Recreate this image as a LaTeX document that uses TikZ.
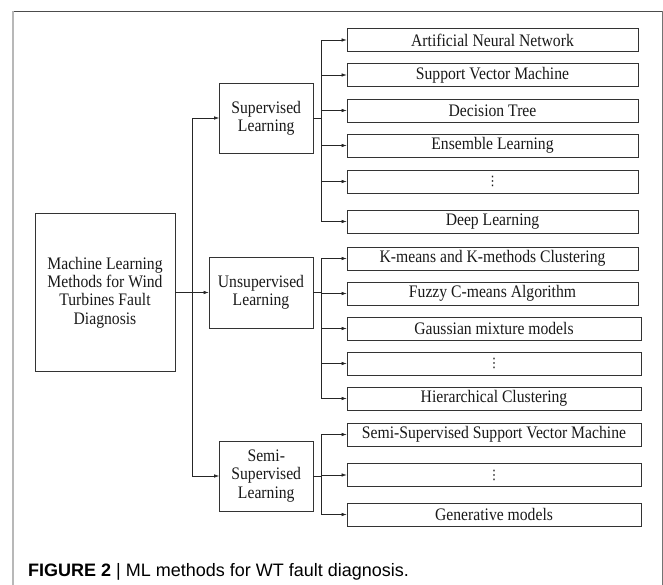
\documentclass[tikz,border=0pt]{standalone}
\usepackage{fontspec}
\setmainfont{Liberation Serif}[FakeStretch=0.89]
\newfontfamily\capfont{Liberation Sans}
\newfontfamily\dotfont{DejaVu Sans}
\newcommand{\vdotsmark}{{\dotfont\fontsize{13}{14}\selectfont ⋮}}
\usetikzlibrary{arrows.meta}

\begin{document}
\begin{tikzpicture}[x=1pt,y=-1pt,
  box/.style={draw=black!80,line width=0.7pt,inner sep=0pt,align=center,
    text=black!90,font=\fontsize{17.6}{18.3}\selectfont},
  leaf/.style={box,minimum width=291pt,minimum height=23pt},
  wideleaf/.style={box,minimum width=294pt,minimum height=23pt},
  arr/.style={draw=black!85,line width=0.6pt,-{Latex[length=5pt,width=3.5pt]}}]

\useasboundingbox (0,0) rectangle (663,585);

\draw[black!70,line width=0.9pt] (12,11) -- (662,11) ;
\draw[black!28,line width=2pt] (12.5,11) -- (12.5,585) ;
\draw[black!55,line width=0.9pt] (662,11) -- (662,585) ;

\node[box,minimum width=140pt,minimum height=158pt] (ml) at (105,292.5)
  {Machine Learning\\Methods for Wind\\Turbines Fault\\Diagnosis};

\node[box,minimum width=93.5pt,minimum height=70pt] (sup) at (266.25,118) {Supervised\\Learning};
\node[box,minimum width=104pt,minimum height=71pt] (uns) at (261,292.5) {Unsupervised\\Learning};
\node[box,minimum width=93.5pt,minimum height=70pt] (semi) at (266.25,476) {Semi-\\Supervised\\Learning};

\node[leaf] (ann) at (492.5,40) {Artificial Neural Network};
\node[leaf] (svm) at (492.5,75) {Support Vector Machine};
\node[leaf] (dt) at (492.5,110.5) {Decision Tree};
\node[leaf] (ens) at (492.5,145.5) {Ensemble Learning};
\node[leaf] (supdots) at (492.5,181.5) {\vdotsmark};
\node[leaf] (deep) at (492.5,221.5) {Deep Learning};

\node[leaf] (kmeans) at (492.5,258.5) {K-means and K-methods Clustering};
\node[leaf] (fuzzy) at (492.5,293.5) {Fuzzy C-means Algorithm};
\node[wideleaf] (gmm) at (494,328.5) {Gaussian mixture models};
\node[wideleaf] (unsdots) at (494,363.5) {\vdotsmark};
\node[wideleaf] (hier) at (494,398.5) {Hierarchical Clustering};

\node[wideleaf] (s3vm) at (494,434.5) {Semi-Supervised Support Vector Machine};
\node[wideleaf] (semidots) at (494,475) {\vdotsmark};
\node[wideleaf] (gen) at (494,514.5) {Generative models};

\draw[arr] (ml.east) -- (uns.west);
\draw[arr] (ml.east) -- ++(17,0) |- (sup.west);
\draw[arr] (ml.east) -- ++(17,0) |- (semi.west);

\draw[arr] (sup.east) -- ++(7.5,0) |- (ann.west);
\draw[arr] (sup.east) -- ++(7.5,0) |- (svm.west);
\draw[arr] (sup.east) -- ++(7.5,0) |- (dt.west);
\draw[arr] (sup.east) -- ++(7.5,0) |- (ens.west);
\draw[arr] (sup.east) -- ++(7.5,0) |- (supdots.west);
\draw[arr] (sup.east) -- ++(7.5,0) |- (deep.west);

\draw[arr] (uns.east) -- ++(7.5,0) |- (kmeans.west);
\draw[arr] (uns.east) -- ++(7.5,0) |- (fuzzy.west);
\draw[arr] (uns.east) -- ++(7.5,0) |- (gmm.west);
\draw[arr] (uns.east) -- ++(7.5,0) |- (unsdots.west);
\draw[arr] (uns.east) -- ++(7.5,0) |- (hier.west);

\draw[arr] (semi.east) -- ++(7.5,0) |- (s3vm.west);
\draw[arr] (semi.east) -- ++(7.5,0) |- (semidots.west);
\draw[arr] (semi.east) -- ++(7.5,0) |- (gen.west);

\node[anchor=west,inner sep=0pt,font=\capfont\fontsize{18}{20}\selectfont] (caption) at (28,572)
  {\textbf{FIGURE 2} | ML methods for WT fault diagnosis.};

\end{tikzpicture}
\end{document}
